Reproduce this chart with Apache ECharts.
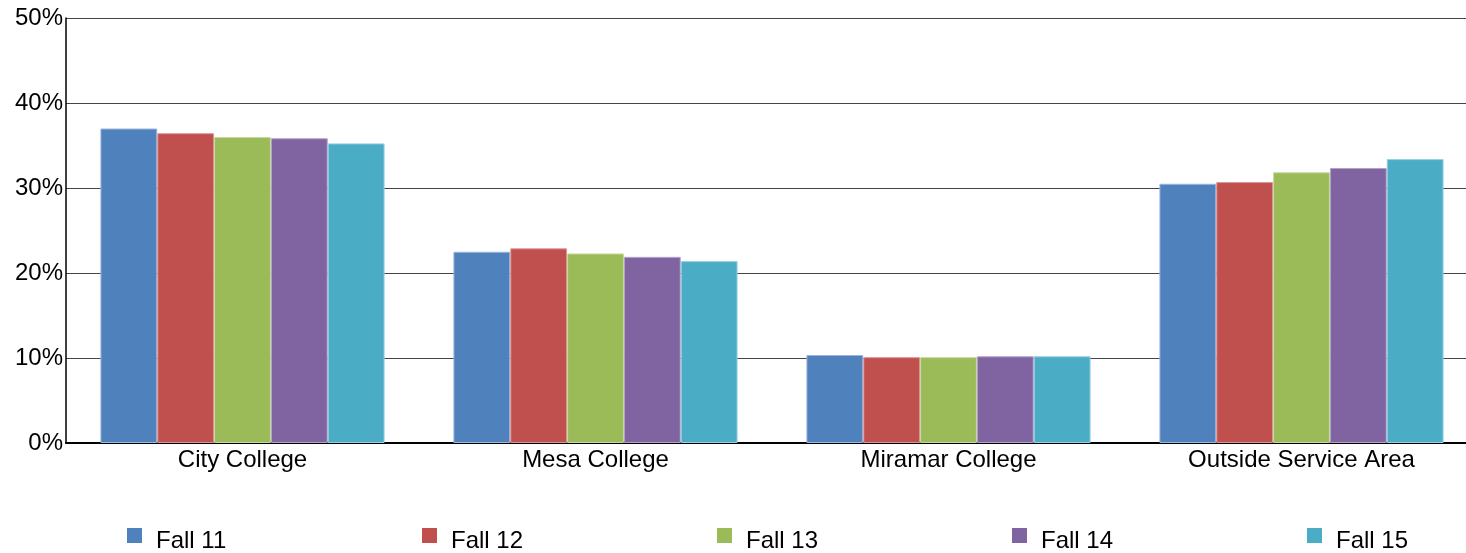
<!DOCTYPE html>
<html><head><meta charset="utf-8">
<script src="https://cdn.jsdelivr.net/npm/echarts@6/dist/echarts.min.js"></script>
<style>html,body{margin:0;padding:0;background:#fff;overflow:hidden;width:1466px;height:553px}#c{width:1478px;height:553px}</style>
</head><body><div id="c"></div>
<script>
const categories = ['City College', 'Mesa College', 'Miramar College', 'Outside Service Area'];
const seriesNames = ['Fall 11', 'Fall 12', 'Fall 13', 'Fall 14', 'Fall 15'];
const fall11 = [37.0, 22.5, 10.35, 30.5];
const fall12 = [36.45, 22.9, 10.1, 30.7];
const fall13 = [36.0, 22.3, 10.1, 31.85];
const fall14 = [35.85, 21.9, 10.2, 32.35];
const fall15 = [35.25, 21.4, 10.2, 33.4];
const yTicks = [0, 10, 20, 30, 40, 50];

const values = [fall11, fall12, fall13, fall14, fall15];
const colors = ['#4F81BD', '#C0504D', '#9BBB59', '#8064A2', '#4BACC6'];
const borders = ['#9DB6DC', '#DC9795', '#C6D99F', '#B3A2C9', '#97D0DF'];
const legendLeft = [127, 422, 717, 1012, 1307];

const chart = echarts.init(document.getElementById('c'));
chart.setOption({
  animation: false,
  color: colors,
  grid: { left: 66, right: 0, top: 18, bottom: 110, containLabel: false },
  legend: seriesNames.map((n, i) => ({
    data: [n], left: legendLeft[i], top: 528, padding: 0,
    itemWidth: 15, itemHeight: 27, itemGap: 0,
    icon: 'path://M0,0L15,0L15,15L0,15Z M0,27L0.001,27',
    itemStyle: { borderWidth: 0 },
    textStyle: { fontFamily: 'Liberation Sans, Arial', fontSize: 24, color: '#000', padding: [0, 0, 0, 9] }
  })),
  xAxis: {
    type: 'category', data: categories,
    axisLine: { lineStyle: { color: '#000', width: 2 } },
    axisTick: { show: false },
    axisLabel: { fontFamily: 'Liberation Sans, Arial', fontSize: 24, color: '#000', margin: 5 }
  },
  yAxis: {
    type: 'value', min: yTicks[0], max: yTicks[yTicks.length - 1], interval: 10,
    axisLine: { show: true, lineStyle: { color: '#000', width: 1.5 } },
    axisTick: { show: false },
    splitLine: { lineStyle: { color: '#444', width: 1 } },
    axisLabel: { formatter: '{value}%', fontFamily: 'Liberation Sans, Arial', fontSize: 24, color: '#000', margin: 3 }
  },
  series: seriesNames.map((n, i) => ({
    name: n, type: 'bar', data: values[i],
    barGap: '0%', barCategoryGap: '19.5%',
    itemStyle: { color: colors[i], borderColor: borders[i], borderWidth: 1 }
  }))
});
</script></body></html>
